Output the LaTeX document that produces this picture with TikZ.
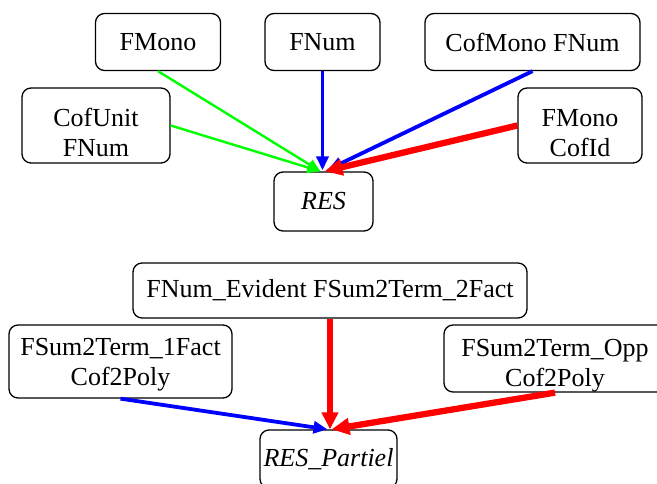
\documentclass[tikz,border=0pt]{standalone}
\usepackage{fontspec}
\setmainfont{Liberation Serif}
\usetikzlibrary{arrows.meta}
\definecolor{ggreen}{RGB}{0,255,0}
\definecolor{bblue}{RGB}{0,0,255}
\definecolor{rred}{RGB}{255,0,0}
\begin{document}
\begin{tikzpicture}[x=1pt,y=-1pt,
  box/.style={draw=black, line width=1.3pt, rounded corners=9pt, inner sep=0pt,
    align=center, font=\fontsize{26}{30}\selectfont},
  greenedge/.style={draw=ggreen, line width=2.4pt, -{Triangle[length=13pt,width=11pt]}},
  blueedge/.style={draw=bblue, line width=3.8pt, -{Triangle[length=14pt,width=12pt]}},
  redmid/.style={draw=rred, line width=5.3pt, -{Triangle[length=17pt,width=16pt]}},
  redthick/.style={draw=rred, line width=6.3pt, -{Triangle[length=18pt,width=16pt]}}]
\useasboundingbox (0,0) rectangle (657,484);
\clip (0,0) rectangle (657,484);

% top graph
\node[box, minimum width=125pt, minimum height=57pt] (fmono) at (158,42) {FMono};
\node[box, minimum width=115pt, minimum height=57pt] (fnum) at (322.5,42) {FNum};
\node[box, minimum width=215pt, minimum height=57pt] (cofmono) at (532.5,42) {CofMono FNum};
\node[box, minimum width=148pt, minimum height=75pt, text height=63pt, text depth=0pt] (cofunit) at (96,125.5) {CofUnit\\FNum};
\node[box, minimum width=124pt, minimum height=75pt, text height=63pt, text depth=0pt] (fmcid) at (580,125.5) {FMono\\CofId};
\node[box, minimum width=99pt, minimum height=59pt] (res) at (323.5,201.5) {\itshape RES};

\draw[greenedge] (fmono.south) -- ([xshift=-3pt]res.north);
\draw[greenedge] (cofunit.east) -- ([xshift=-3pt]res.north);
\draw[blueedge] (fnum.south) -- ([xshift=-1pt,yshift=1pt]res.north);
\draw[blueedge] (cofmono.south) -- ([xshift=5pt,yshift=2pt]res.north);
\draw[redthick] (fmcid.west) -- ([xshift=1pt]res.north);

% bottom graph
\node[box, minimum width=394pt, minimum height=55pt] (evident) at (330,290.5) {FNum\_Evident FSum2Term\_2Fact};
\node[box, minimum width=223pt, minimum height=73pt, text height=47pt, text depth=0pt] (onefact) at (120.5,361.5) {FSum2Term\_1Fact\\Cof2Poly};
\node[box, minimum width=222pt, minimum height=67pt, text height=55pt, text depth=0pt] (opp) at (555,358.5) {FSum2Term\_Opp\\Cof2Poly};
\node[box, minimum width=137pt, minimum height=58pt] (partiel) at (328.5,459) {\itshape RES\_Partiel};

\draw[blueedge] (onefact.south) -- ([xshift=-1pt]partiel.north);
\draw[redmid] (evident.south) -- (evident.south |- partiel.north);
\draw[redthick] (opp.south) -- ([xshift=3pt]partiel.north);
\end{tikzpicture}
\end{document}
